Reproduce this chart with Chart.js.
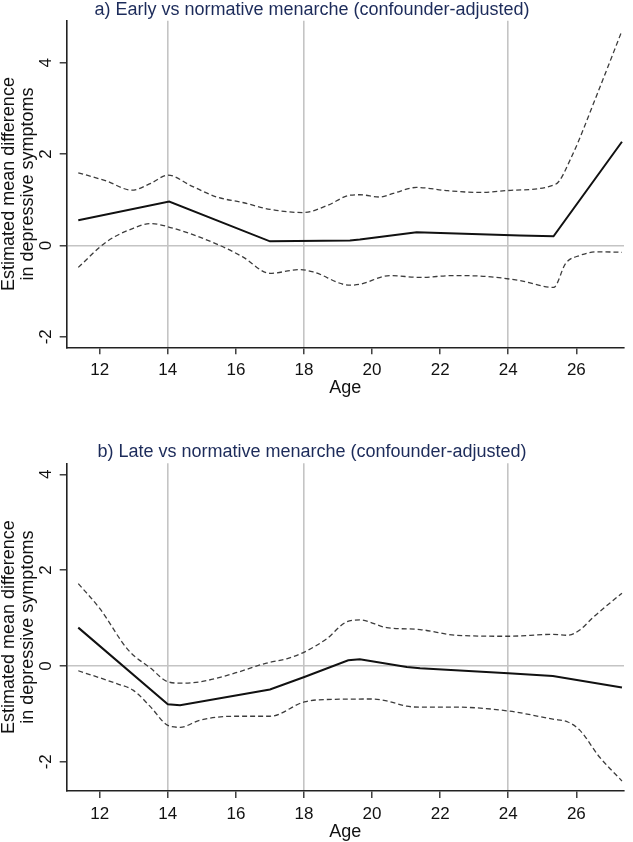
<!DOCTYPE html>
<html>
<head>
<meta charset="utf-8">
<script src="https://cdn.jsdelivr.net/npm/chart.js@4.4.0/dist/chart.umd.min.js"></script>
<style>
html,body{margin:0;padding:0;background:#fff;}
.panel{position:absolute;left:0;width:633px;}
#pa{top:0;height:420px;}
#pb{top:420px;height:422px;}
</style>
</head>
<body>
<div class="panel" id="pa"><canvas id="chartA" width="633" height="420"></canvas></div>
<div class="panel" id="pb"><canvas id="chartB" width="633" height="422"></canvas></div>
<script>
const xTicks = [12, 14, 16, 18, 20, 22, 24, 26];
const yTicks = [-2, 0, 2, 4];
const refAges = [14, 18, 24];

// a) early vs normative
const aMidAge = [11.37, 14.04, 17.0, 19.35, 19.64, 21.31, 24.34, 25.33, 27.34];
const aMid    = [0.55, 0.96, 0.09, 0.11, 0.13, 0.29, 0.22, 0.20, 2.27];
const aUpAge  = [11.37, 12.2, 12.94, 13.5, 14.0, 14.7, 15.44, 16.2, 17.0, 17.98, 18.7, 19.35, 19.64, 20.23, 20.62, 21.31, 22.19, 23.17, 24.15, 25.39, 25.86, 26.6, 27.34];
const aUp     = [1.59, 1.41, 1.21, 1.36, 1.54, 1.30, 1.06, 0.94, 0.79, 0.72, 0.88, 1.10, 1.11, 1.06, 1.14, 1.27, 1.20, 1.16, 1.21, 1.34, 1.94, 3.29, 4.70];
const aLoAge  = [11.37, 12.2, 13.0, 13.48, 14.0, 15.44, 16.2, 17.0, 17.88, 18.27, 19.35, 19.64, 20.53, 21.41, 22.39, 23.37, 24.34, 25.33, 25.69, 26.1, 26.63, 27.34];
const aLo     = [-0.48, 0.08, 0.38, 0.48, 0.41, 0.03, -0.25, -0.61, -0.53, -0.58, -0.87, -0.85, -0.66, -0.70, -0.66, -0.68, -0.77, -0.92, -0.39, -0.22, -0.14, -0.15];

// b) late vs normative
const bMidAge = [11.37, 14.0, 14.36, 17.0, 18.01, 19.30, 19.64, 21.02, 21.41, 24.0, 25.31, 27.34];
const bMid    = [0.80, -0.80, -0.82, -0.49, -0.23, 0.12, 0.14, -0.02, -0.05, -0.15, -0.21, -0.45];
const bUpAge  = [11.37, 12.0, 12.84, 13.5, 14.0, 14.4, 14.95, 15.92, 16.9, 17.49, 18.01, 18.67, 19.25, 19.64, 20.43, 21.41, 22.47, 24.0, 25.31, 25.75, 26.1, 26.5, 27.34];
const bUp     = [1.72, 1.20, 0.33, -0.05, -0.33, -0.36, -0.33, -0.16, 0.06, 0.15, 0.29, 0.57, 0.92, 0.96, 0.80, 0.76, 0.64, 0.62, 0.66, 0.64, 0.75, 1.02, 1.52];
const bLoAge  = [11.37, 12.5, 12.99, 13.5, 14.0, 14.36, 14.95, 15.92, 17.0, 18.01, 18.67, 20.04, 20.43, 21.02, 21.41, 22.47, 24.0, 25.31, 25.75, 26.1, 26.68, 27.34];
const bLo     = [-0.10, -0.37, -0.51, -0.86, -1.24, -1.28, -1.13, -1.05, -1.05, -0.75, -0.70, -0.69, -0.73, -0.84, -0.86, -0.86, -0.94, -1.11, -1.17, -1.34, -1.90, -2.40];

Chart.defaults.font.family = "'Liberation Sans', Arial, sans-serif";

function pts(xs, ys){ return xs.map((x, i) => ({x, y: ys[i]})); }

function makeChart(id, title, mid, up, lo, box){
  const dashed = {borderColor:"#3c3c3c", borderWidth:1.3, borderDash:[5,3], cubicInterpolationMode:"monotone", pointRadius:0, fill:false};
  return new Chart(document.getElementById(id), {
    type: "line",
    data: { datasets: [
      Object.assign({ data: up }, dashed),
      Object.assign({ data: lo }, dashed),
      { data: mid, borderColor:"#111", borderWidth:2, tension:0, pointRadius:0, fill:false }
    ]},
    options: {
      responsive:false,
      animation:false,
      layout:{ padding:{ left:0, right:9, top:0, bottom:box.padBottom } },
      plugins:{
        legend:{ display:false },
        tooltip:{ enabled:false },
        title:{ display:true, text:title, color:"#1c2b5a",
          font:{ size:18, weight:"normal", lineHeight:1.1 },
          padding:{ top:box.titleTop, bottom:box.titleBottom } }
      },
      scales:{
        x:{
          type:"linear", min:11.03, max:27.4,
          afterBuildTicks: s => { s.ticks = xTicks.map(v => ({value:v})); },
          afterFit: s => { s.height = box.xHeight; },
          grid:{ color: c => refAges.includes(c.tick && c.tick.value) ? "#c4c4c4" : "rgba(0,0,0,0)",
            lineWidth:1.6, tickColor:"#222", tickLength:7, tickWidth:1.3 },
          border:{ color:"#222", width:1.6 },
          ticks:{ color:"#111", font:{ size:17 }, padding:6, maxRotation:0, autoSkip:false },
          title:{ display:true, text:"Age", color:"#111", font:{ size:18, lineHeight:1.1 }, padding:0 }
        },
        y:{
          min:box.yMin, max:box.yMax,
          afterBuildTicks: s => { s.ticks = yTicks.map(v => ({value:v})); },
          afterFit: s => { s.width = 66.7; },
          grid:{ color: c => (c.tick && c.tick.value === 0) ? "#c4c4c4" : "rgba(0,0,0,0)",
            lineWidth:1.6, tickColor:"#222", tickLength:7, tickWidth:1.3 },
          border:{ color:"#222", width:1.6 },
          ticks:{ color:"#111", font:{ size:17 }, padding:5.6, minRotation:90, maxRotation:90, crossAlign:"center" },
          title:{ display:true, text:["Estimated mean difference","in depressive symptoms"], color:"#111",
            font:{ size:18, lineHeight:1.03 }, padding:0 }
        }
      }
    }
  });
}

makeChart("chartA", "a) Early vs normative menarche (confounder-adjusted)",
  pts(aMidAge, aMid), pts(aUpAge, aUp), pts(aLoAge, aLo),
  { yMin:-2.23, yMax:4.92, titleTop:0, titleBottom:0.9, padBottom:22.1, xHeight:50.6 });

makeChart("chartB", "b) Late vs normative menarche (confounder-adjusted)",
  pts(bMidAge, bMid), pts(bUpAge, bUp), pts(bLoAge, bLo),
  { yMin:-2.61, yMax:4.23, titleTop:22.1, titleBottom:1.4, padBottom:0.1, xHeight:50.9 });
</script>
</body>
</html>
